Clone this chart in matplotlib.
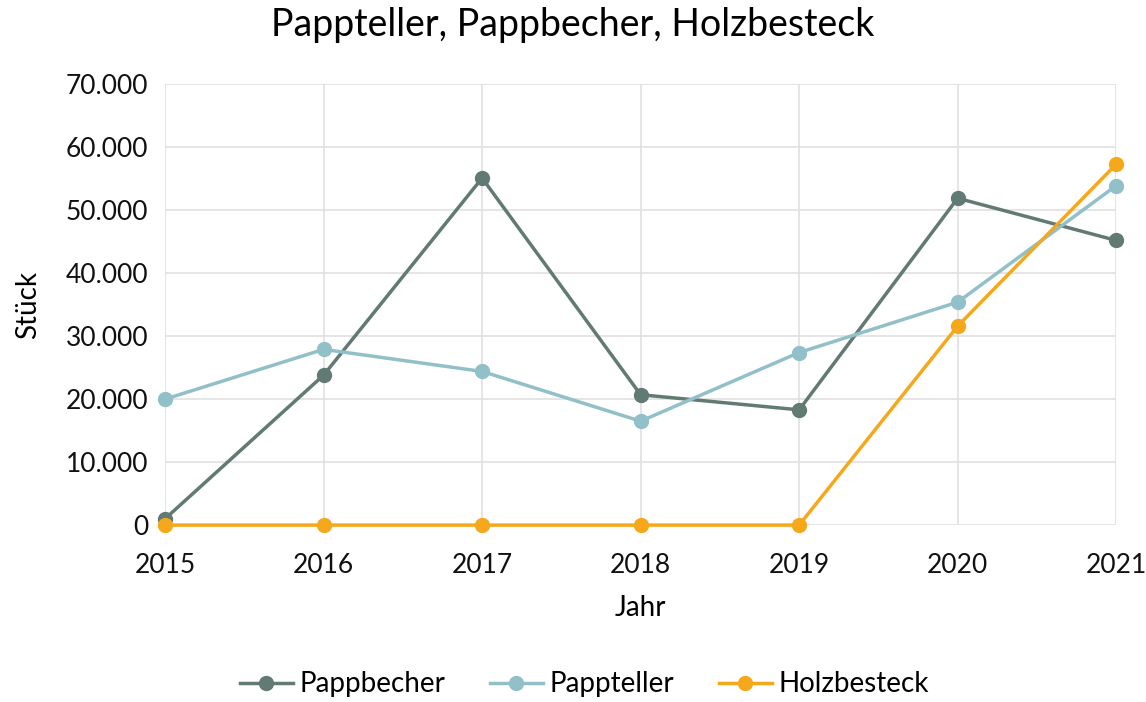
import matplotlib
matplotlib.use("Agg")
import matplotlib.pyplot as plt
from matplotlib.ticker import FuncFormatter

years = [2015, 2016, 2017, 2018, 2019, 2020, 2021]
pappbecher = [1000, 23800, 55100, 20700, 18300, 51900, 45200]
pappteller = [20000, 27900, 24400, 16500, 27400, 35400, 53900]
holzbesteck = [0, 0, 0, 0, 0, 31600, 57300]

plt.rcParams['font.family'] = ['Lato', 'DejaVu Sans']

fig = plt.figure(figsize=(11.46, 7.02), dpi=100)
ax = fig.add_axes([0.144, 0.252, 0.830, 0.628])

ax.plot(years, pappbecher, color='#627a74', lw=2.5, marker='o', ms=10, label='Pappbecher', zorder=3, clip_on=False)
ax.plot(years, pappteller, color='#92c0c9', lw=2.5, marker='o', ms=10, label='Pappteller', zorder=3, clip_on=False)
ax.plot(years, holzbesteck, color='#f6a81c', lw=2.5, marker='o', ms=10, label='Holzbesteck', zorder=4, clip_on=False)

ax.set_xlim(2015, 2021)
ax.set_ylim(0, 70000)
ax.set_yticks(range(0, 70001, 10000))
ax.set_xticks(years)
ax.yaxis.set_major_formatter(FuncFormatter(lambda v, p: f"{int(v):,}".replace(',', '.')))
ax.grid(True, color='#e0e0e0', lw=1.2)
ax.set_axisbelow(True)
for s in ax.spines.values():
    s.set_visible(False)
ax.tick_params(length=0, labelsize=19, colors='#111111')
ax.tick_params(axis='x', pad=20)
ax.tick_params(axis='y', pad=12)
ax.set_xlabel('Jahr', fontsize=20, labelpad=12)
ax.set_ylabel('Stück', fontsize=20, labelpad=18)
fig.suptitle('Pappteller, Pappbecher, Holzbesteck', fontsize=27, y=0.99)

fig.legend(loc='center', bbox_to_anchor=(0.51, 0.025), ncol=3, frameon=False,
           fontsize=20, handlelength=1.9, columnspacing=1.6, handletextpad=0.25)

fig.savefig('out.png', dpi=100)
